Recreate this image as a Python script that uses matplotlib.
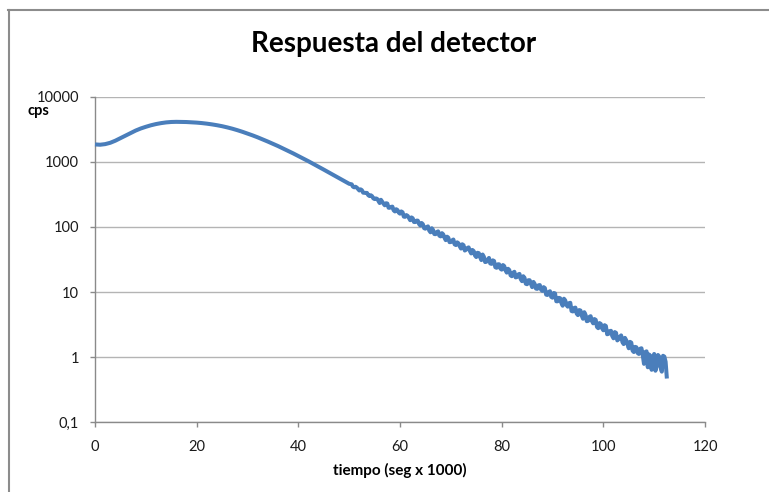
import matplotlib
matplotlib.use('Agg')
import matplotlib.pyplot as plt
import numpy as np
from matplotlib.lines import Line2D
from matplotlib.ticker import FixedLocator, FixedFormatter, NullLocator

# sampling times (seg x 1000): whole/half steps and the in-between quarter samples
t_main = np.concatenate([np.arange(0, 51, 1.0), np.arange(50.5, 112.51, 0.5)])
t_quarter = np.arange(50.75, 112.26, 0.5)

# counts per second
cps_early = [1850, 1830, 1870, 1960, 2110, 2310, 2540, 2780, 3020, 3250,
             3450, 3640, 3800, 3930, 4030, 4090, 4111, 4102, 4083, 4046,
             3999, 3936, 3855, 3758, 3648, 3524, 3381, 3228, 3062, 2891,
             2716, 2547, 2377, 2208, 2046, 1892, 1746, 1603, 1469, 1346,
             1227, 1119, 1019, 925, 838, 759, 687, 621, 562, 508,
             460]
cps_mid = [451, 406, 402, 363, 367, 334, 333, 298, 297, 268,
           270, 233, 244, 215, 229, 197, 205, 173, 182, 160,
           168, 143, 148, 127, 136, 119, 125, 105, 110, 94.0,
           102, 82.8, 89.9, 77.4, 85.5, 71.6, 76.9, 62.7, 68.6, 58.6,
           64.1, 52.7, 56.1, 46.6, 52.4, 44.8, 48.5, 39.2, 42.5, 34.5,
           39.6, 31.0, 34.8, 29.2, 33.4, 27.1, 30.0, 23.6, 26.7, 22.1,
           25.1, 19.9, 21.8, 17.5, 20.5, 17.0, 19.0, 14.7, 16.5, 13.2,
           15.2, 11.9, 13.3, 11.2, 12.8, 10.4, 11.5, 9.02]
cps_late = [10.3, 8.20, 9.53, 7.21, 8.04, 6.17, 7.46, 5.97, 6.84, 5.04,
            5.77, 4.43, 5.21, 3.89, 4.46, 3.61, 4.26, 3.31, 3.74, 2.79,
            3.24, 2.59, 3.01, 2.28, 2.54, 1.95, 2.36, 1.89, 2.16, 1.59,
            1.82, 1.37, 1.67, 1.20, 1.42, 1.12, 1.37, 0.79, 1.23, 1.10,
            0.64, 1.12, 0.74, 1.02, 0.60, 1.02, 0.47]
cps_quarter = [415, 414, 381, 378, 336, 333, 308, 307, 275, 274,
               252, 261, 228, 231, 197, 203, 180, 187, 166, 173,
               144, 152, 138, 140, 119, 125, 111, 115, 95.7,
               99.4, 88.1, 95.5, 77.8, 83.6, 73.4, 80.3, 68.5, 70.9, 58.4,
               62.1, 54.0, 58.0, 50.4, 54.2, 43.4, 47.5, 42.8, 44.3, 36.5,
               40.1, 34.4, 37.7, 28.9, 31.6, 27.5, 30.7, 24.1, 26.7, 22.9,
               26.0, 21.6, 22.8, 18.1, 19.8, 16.8, 18.6, 15.8, 17.5, 13.4,
               15.2, 13.5, 14.3, 11.3, 12.7, 10.9, 11.9, 9.13,
               9.99, 8.44, 9.67, 7.22, 8.15, 6.80, 7.90, 6.32, 6.75, 5.11,
               5.69, 4.68, 5.29, 4.35, 4.91, 3.57, 4.15, 3.60, 3.85, 2.91,
               3.34, 2.78, 3.10, 2.25, 2.51, 2.12, 2.43, 1.81, 2.05, 1.71,
               1.98, 1.59, 1.72, 1.26, 1.44, 1.16, 1.35, 1.08, 1.20, 0.70,
               1.05, 0.95, 0.62, 1.08, 0.70, 1.05, 0.85]

yticks = [0.1, 1, 10, 100, 1000, 10000]
ytick_labels = ['0,1', '1', '10', '100', '1000', '10000']
xticks = [0, 20, 40, 60, 80, 100, 120]
xtick_labels = ['0', '20', '40', '60', '80', '100', '120']

title = 'Respuesta del detector'
xlabel = 'tiempo (seg x 1000)'
ylabel = 'cps'

t = np.concatenate([t_main, t_quarter])
cps = np.array(cps_early + cps_mid + cps_late + cps_quarter, dtype=float)
order = np.argsort(t, kind='stable')
t, cps = t[order], cps[order]

FONT = ['Lato', 'DejaVu Sans']
plt.rcParams['font.family'] = FONT

W, H = 769, 492
fig = plt.figure(figsize=(W / 100, H / 100), dpi=100)
fig.patch.set_facecolor('white')

ax = fig.add_axes([95 / W, 1 - 422.3 / H, 610 / W, 325.6 / H])
ax.set_yscale('log')
ax.set_xlim(0, 120)
ax.set_ylim(0.1, 10000)

ax.plot(t, cps, color='#4A7EBB', lw=2.9, solid_joinstyle='round',
        solid_capstyle='butt', clip_on=False, zorder=3)

ax.xaxis.set_major_locator(FixedLocator(xticks))
ax.xaxis.set_major_formatter(FixedFormatter(xtick_labels))
ax.yaxis.set_major_locator(FixedLocator(yticks))
ax.yaxis.set_major_formatter(FixedFormatter(ytick_labels))
ax.yaxis.set_minor_locator(NullLocator())
ax.xaxis.set_minor_locator(NullLocator())

gray = '#8a8a8a'
for s in ['top', 'right']:
    ax.spines[s].set_visible(False)
for s in ['left', 'bottom']:
    ax.spines[s].set_color(gray)
    ax.spines[s].set_linewidth(1.0)

ax.yaxis.grid(True, color='#b4b4b4', lw=1.0)
ax.set_axisbelow(True)
ax.tick_params(axis='both', direction='out', length=3.6, width=1.0,
               color=gray, labelsize=10.5, labelcolor='#1a1a1a')
ax.tick_params(axis='y', pad=7.9)
ax.tick_params(axis='x', pad=9.4)

fig.text(394 / W, 1 - 44 / H, title, ha='center', va='center',
         fontsize=20, fontweight='bold', color='black')
fig.text(400 / W, 1 - 470 / H, xlabel, ha='center', va='center',
         fontsize=11, fontweight='bold', color='black')
fig.text(38 / W, 1 - 111 / H, ylabel, ha='center', va='center',
         fontsize=10.5, fontweight='bold', color='black')

# chart-area border (top and left edges visible)
fig.add_artist(Line2D([8 / W, 1.0], [1 - 10 / H, 1 - 10 / H],
                      transform=fig.transFigure, color='#8c8c8c', lw=1.5))
fig.add_artist(Line2D([8.5 / W, 8.5 / W], [0.0, 1 - 10 / H],
                      transform=fig.transFigure, color='#8c8c8c', lw=1.5))

fig.savefig('out.png', dpi=100, facecolor='white')
